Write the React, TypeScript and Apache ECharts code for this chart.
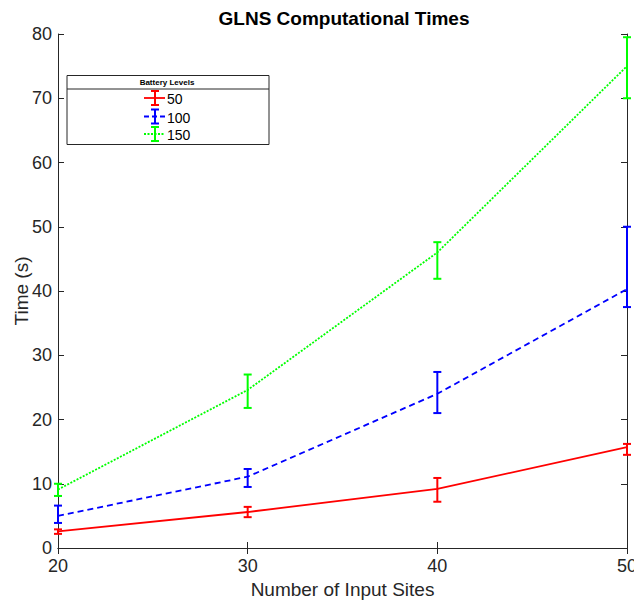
import React, { useEffect, useRef } from "react";
import * as echarts from "echarts";

const xValues = [20, 30, 40, 50];
const seriesNames = ["50", "100", "150"];
const mean50 = [2.6, 5.6, 9.2, 15.7];
const low50 = [2.2, 4.8, 7.2, 14.5];
const high50 = [2.9, 6.4, 10.9, 16.2];
const mean100 = [5.0, 11.1, 24.0, 40.3];
const low100 = [3.9, 9.5, 21.0, 37.5];
const high100 = [6.6, 12.3, 27.4, 50.0];
const mean150 = [9.1, 24.6, 46.0, 75.0];
const low150 = [8.1, 21.8, 41.9, 70.0];
const high150 = [10.0, 27.0, 47.6, 79.5];
const yTicks = [0, 10, 20, 30, 40, 50, 60, 70, 80];
const xTicks = [20, 30, 40, 50];

const colors = ["#ff0000", "#0000ff", "#00ff00"];
const lineTypes: any[] = ["solid", [6, 4], [2, 1.5]];
const FONT = "Liberation Sans, Arial, Helvetica, sans-serif";
const AX = "#262626";

export default function App() {
  const ref = useRef<HTMLDivElement>(null);
  useEffect(() => {
    if (!ref.current) return;
    const chart = echarts.init(ref.current, null, { renderer: "svg" });
    const means = [mean50, mean100, mean150];
    const lows = [low50, low100, low150];
    const highs = [high50, high100, high150];

    const series: any[] = [];
    seriesNames.forEach((name, i) => {
      series.push({
        name,
        type: "line",
        data: xValues.map((x, k) => [x, means[i][k]]),
        symbol: "none",
        lineStyle: { color: colors[i], width: 1.8, type: lineTypes[i] },
        clip: false,
        z: 3,
      });
      series.push({
        name: name + " err",
        type: "custom",
        data: xValues.map((x, k) => [x, lows[i][k], highs[i][k]]),
        clip: false,
        z: 4,
        renderItem: (params: any, api: any) => {
          const x = api.value(0);
          const lo = api.coord([x, api.value(1)]);
          const hi = api.coord([x, api.value(2)]);
          const hw = 4;
          const st = { stroke: colors[i], lineWidth: 2 };
          return {
            type: "group",
            children: [
              { type: "line", shape: { x1: lo[0], y1: lo[1], x2: hi[0], y2: hi[1] }, style: st },
              { type: "line", shape: { x1: lo[0] - hw, y1: lo[1], x2: lo[0] + hw, y2: lo[1] }, style: st },
              { type: "line", shape: { x1: hi[0] - hw, y1: hi[1], x2: hi[0] + hw, y2: hi[1] }, style: st },
            ],
          };
        },
      });
    });

    // legend graphics
    const legendChildren: any[] = [
      { type: "rect", shape: { x: 67, y: 75.5, width: 202, height: 69 }, style: { fill: "#fff", stroke: "#262626", lineWidth: 1 } },
      { type: "line", shape: { x1: 67, y1: 89, x2: 269, y2: 89 }, style: { stroke: "#262626", lineWidth: 1 } },
      { type: "text", style: { text: "Battery Levels", x: 167, y: 82.5, align: "center", verticalAlign: "middle", font: "bold 8px " + FONT, fill: "#000" } },
    ];
    const ly = [98, 116.5, 134];
    seriesNames.forEach((name, i) => {
      const y = ly[i];
      legendChildren.push({
        type: "line",
        shape: { x1: 144, y1: y, x2: 165, y2: y },
        style: { stroke: colors[i], lineWidth: 1.8, lineDash: i === 0 ? null : i === 1 ? [5, 3] : [2, 1.5] },
      });
      const st = { stroke: colors[i], lineWidth: 2 };
      legendChildren.push({ type: "line", shape: { x1: 155, y1: y - 7, x2: 155, y2: y + 7 }, style: st });
      legendChildren.push({ type: "line", shape: { x1: 151, y1: y - 7, x2: 159, y2: y - 7 }, style: st });
      legendChildren.push({ type: "line", shape: { x1: 151, y1: y + 7, x2: 159, y2: y + 7 }, style: st });
      legendChildren.push({
        type: "text",
        style: { text: name, x: 167, y: y + 1, align: "left", verticalAlign: "middle", font: "14px " + FONT, fill: "#000" },
      });
    });

    const axisCommon = {
      axisLine: { show: true, lineStyle: { color: AX, width: 1 } },
      axisTick: { show: true, inside: true, length: 6, lineStyle: { color: AX, width: 1 } },
      splitLine: { show: false },
    };

    chart.setOption({
      animation: false,
      backgroundColor: "#fff",
      title: {
        text: "GLNS Computational Times",
        left: 344,
        top: 9,
        padding: 0,
        textAlign: "center",
        textStyle: { fontFamily: FONT, fontSize: 19, fontWeight: "bold", color: "#000" },
      },
      grid: { left: 58, right: 7, top: 34, bottom: 53, containLabel: false, outerBoundsMode: "none" },
      xAxis: [
        {
          type: "value",
          min: 20,
          max: 50,
          interval: 10,
          name: "Number of Input Sites",
          nameLocation: "middle",
          nameGap: 32,
          nameMoveOverlap: false,
          nameTextStyle: { fontFamily: FONT, fontSize: 19, color: AX },
          axisLabel: {
            fontFamily: FONT,
            fontSize: 18,
            color: AX,
            margin: 9,
            customValues: xTicks,
            formatter: (v: number) => String(v),
          },
          ...axisCommon,
        },
        {
          type: "value",
          position: "top",
          min: 20,
          max: 50,
          interval: 10,
          axisLabel: { show: false },
          ...axisCommon,
        },
      ],
      yAxis: [
        {
          type: "value",
          min: 0,
          max: 80,
          interval: 10,
          name: "Time (s)",
          nameLocation: "middle",
          nameGap: 27,
          nameMoveOverlap: false,
          nameTextStyle: { fontFamily: FONT, fontSize: 19, color: AX },
          axisLabel: {
            fontFamily: FONT,
            fontSize: 18,
            color: AX,
            margin: 6,
            customValues: yTicks,
            formatter: (v: number) => String(v),
          },
          ...axisCommon,
        },
        {
          type: "value",
          position: "right",
          min: 0,
          max: 80,
          interval: 10,
          axisLabel: { show: false },
          ...axisCommon,
        },
      ],
      series,
      graphic: [{ type: "group", children: legendChildren, z: 100 }],
    });
    return () => chart.dispose();
  }, []);
  return (
    <div
      ref={ref}
      style={{ position: "absolute", left: 0, top: 0, width: 634, height: 601 }}
    />
  );
}
